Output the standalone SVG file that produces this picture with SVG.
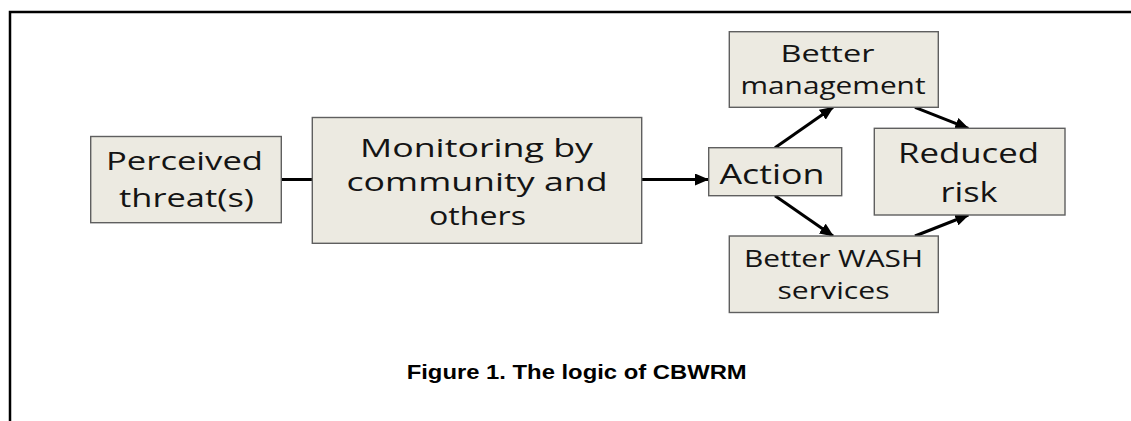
<svg xmlns="http://www.w3.org/2000/svg" width="1131" height="421" viewBox="0 0 1131 421">
<style>
.box{fill:#ECEAE1;stroke:#5f5f5f;stroke-width:1.4}
.t{font-family:"Open Sans","Noto Sans","DejaVu Sans",sans-serif;fill:#141414}
.c{stroke:#000;stroke-width:3;fill:none}
.cap{font-family:"Liberation Sans",Arial,sans-serif;font-weight:bold;fill:#000}
</style>
<defs>
<marker id="ah" markerUnits="userSpaceOnUse" markerWidth="14" markerHeight="12" refX="13" refY="6" orient="auto">
<path d="M0,0 L14,6 L0,12 z" fill="#000"/>
</marker>
</defs>
<rect width="1131" height="421" fill="#fff"/>
<path d="M10,421 V12 H1131" fill="none" stroke="#000" stroke-width="2.5"/>
<g id="connectors">
<line class="c" x1="281.3" y1="179.5" x2="312.3" y2="179.5"/>
<line class="c" x1="641.7" y1="179.5" x2="708" y2="179.5" marker-end="url(#ah)"/>
<line class="c" x1="775" y1="147.7" x2="833" y2="107.3" marker-end="url(#ah)"/>
<line class="c" x1="775" y1="195.7" x2="833" y2="236" marker-end="url(#ah)"/>
<line class="c" x1="915" y1="107.3" x2="968.3" y2="128.3" marker-end="url(#ah)"/>
<line class="c" x1="915" y1="236" x2="968.3" y2="215" marker-end="url(#ah)"/>
</g>
<g id="perceived">
<rect class="box" x="90.7" y="136.5" width="190.6" height="86.2"/>
<text class="t" font-size="25" x="106" y="170" textLength="157" lengthAdjust="spacingAndGlyphs">Perceived</text>
<text class="t" font-size="25" x="119" y="207" textLength="135" lengthAdjust="spacingAndGlyphs">threat(s)</text>
</g>
<g id="monitoring">
<rect class="box" x="312.3" y="117.5" width="329.4" height="125.8"/>
<text class="t" font-size="26" x="360" y="157" textLength="233" lengthAdjust="spacingAndGlyphs">Monitoring by</text>
<text class="t" font-size="26" x="346.5" y="191" textLength="261" lengthAdjust="spacingAndGlyphs">community and</text>
<text class="t" font-size="26" x="429" y="225" textLength="97" lengthAdjust="spacingAndGlyphs">others</text>
</g>
<g id="action">
<rect class="box" x="708.7" y="147.7" width="133" height="48"/>
<text class="t" font-size="27" x="719.5" y="183.5" textLength="105" lengthAdjust="spacingAndGlyphs">Action</text>
</g>
<g id="better-management">
<rect class="box" x="729.3" y="31.7" width="209" height="75.6"/>
<text class="t" font-size="23" x="780.5" y="62.3" textLength="94" lengthAdjust="spacingAndGlyphs">Better</text>
<text class="t" font-size="23" x="740.5" y="94" textLength="185" lengthAdjust="spacingAndGlyphs">management</text>
</g>
<g id="reduced-risk">
<rect class="box" x="874.3" y="128.3" width="190.7" height="86.7"/>
<text class="t" font-size="27" x="898" y="163.3" textLength="141" lengthAdjust="spacingAndGlyphs">Reduced</text>
<text class="t" font-size="27" x="940.5" y="201.7" textLength="57" lengthAdjust="spacingAndGlyphs">risk</text>
</g>
<g id="better-wash">
<rect class="box" x="729.3" y="236" width="209" height="76.5"/>
<text class="t" font-size="23" x="744" y="266.5" textLength="179" lengthAdjust="spacingAndGlyphs">Better WASH</text>
<text class="t" font-size="23" x="777.5" y="299" textLength="112" lengthAdjust="spacingAndGlyphs">services</text>
</g>
<text class="cap" font-size="20" x="406.7" y="379" textLength="340" lengthAdjust="spacingAndGlyphs">Figure 1. The logic of CBWRM</text>
</svg>
